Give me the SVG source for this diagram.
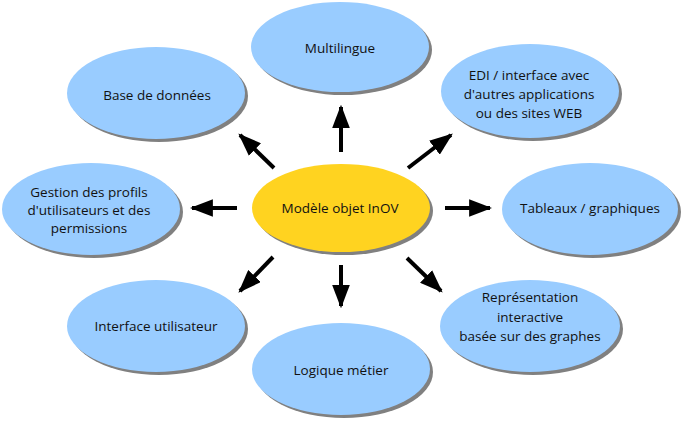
<svg xmlns="http://www.w3.org/2000/svg" width="685" height="421" viewBox="0 0 685 421">
<defs>
<style>
.sh{fill:#808080}
.b{fill:#99ccff}
.y{fill:#ffd320}
text{font-family:"Open Sans","Liberation Sans",sans-serif;font-size:13.5px;fill:#111;text-anchor:middle}
.c line{stroke:#000;stroke-width:4}
</style>
<marker id="ah" viewBox="0 0 10 10" refX="9" refY="5" markerWidth="5.8" markerHeight="4.4" markerUnits="strokeWidth" orient="auto" preserveAspectRatio="none">
<path d="M0,0 L10,5 L0,10 z" fill="#000"/>
</marker>
</defs>
<rect width="685" height="421" fill="#fff"/>
<g id="n-multilingue"><ellipse class="sh" cx="343" cy="50" rx="89" ry="45"/><ellipse class="b" cx="340" cy="47" rx="89" ry="45"/><text x="340" y="53">Multilingue</text></g>
<g id="n-base"><ellipse class="sh" cx="159" cy="96" rx="89" ry="46"/><ellipse class="b" cx="156" cy="93" rx="89" ry="46"/><text x="157" y="100">Base de données</text></g>
<g id="n-edi"><ellipse class="sh" cx="533" cy="94" rx="89" ry="47"/><ellipse class="b" cx="530" cy="91" rx="89" ry="47"/><text x="529" y="80">EDI / interface avec</text><text x="529" y="99">d'autres applications</text><text x="529" y="118">ou des sites WEB</text></g>
<g id="n-gestion"><ellipse class="sh" cx="94" cy="212" rx="89" ry="46"/><ellipse class="b" cx="91" cy="209" rx="89" ry="46"/><text x="89" y="197">Gestion des profils</text><text x="89" y="215">d'utilisateurs et des</text><text x="89" y="233">permissions</text></g>
<g id="n-centre"><ellipse class="sh" cx="344" cy="211" rx="89" ry="44"/><ellipse class="y" cx="341" cy="208" rx="89" ry="44"/><text x="340" y="213">Modèle objet InOV</text></g>
<g id="n-tableaux"><ellipse class="sh" cx="593" cy="212" rx="88" ry="46"/><ellipse class="b" cx="590" cy="209" rx="88" ry="46"/><text x="590" y="213">Tableaux / graphiques</text></g>
<g id="n-interface"><ellipse class="sh" cx="159" cy="329" rx="89" ry="46"/><ellipse class="b" cx="156" cy="326" rx="89" ry="46"/><text x="156" y="331">Interface utilisateur</text></g>
<g id="n-logique"><ellipse class="sh" cx="344" cy="372" rx="89" ry="46"/><ellipse class="b" cx="341" cy="369" rx="89" ry="46"/><text x="341" y="375">Logique métier</text></g>
<g id="n-representation"><ellipse class="sh" cx="533" cy="329" rx="90" ry="46"/><ellipse class="b" cx="530" cy="326" rx="90" ry="46"/><text x="530" y="302">Représentation</text><text x="530" y="322">interactive</text><text x="530" y="341">basée sur des graphes</text></g>
<g id="connectors" class="c">
<line x1="341" y1="152" x2="341" y2="107" marker-end="url(#ah)"/>
<line x1="274" y1="168" x2="240" y2="135" marker-end="url(#ah)"/>
<line x1="408" y1="168" x2="451" y2="135" marker-end="url(#ah)"/>
<line x1="445" y1="208" x2="490" y2="208" marker-end="url(#ah)"/>
<line x1="237" y1="208" x2="192" y2="208" marker-end="url(#ah)"/>
<line x1="273" y1="257" x2="240" y2="291" marker-end="url(#ah)"/>
<line x1="341" y1="265" x2="341" y2="306" marker-end="url(#ah)"/>
<line x1="407" y1="258" x2="441" y2="291" marker-end="url(#ah)"/>
</g>
</svg>
